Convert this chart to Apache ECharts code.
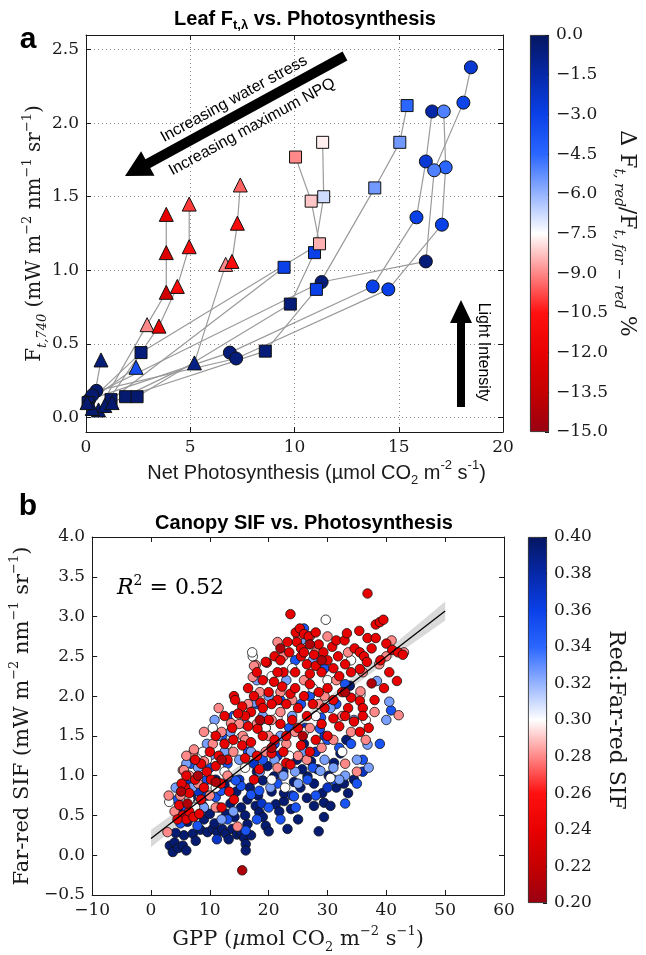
<!DOCTYPE html>
<html>
<head>
<meta charset="utf-8">
<title>Leaf and canopy SIF vs. photosynthesis</title>
<script src="https://cdn.jsdelivr.net/npm/echarts@6/dist/echarts.min.js"></script>
<style>
html, body { margin: 0; padding: 0; background: #fff; }
#chart { width: 646px; height: 955px; }
</style>
</head>
<body>
<div id="chart"></div>
<script>
// ---------- panel a : leaf chains, [net photosynthesis, F740, dF red/far-red %] ----------
const circleChains = [
    [[0.15, 0.12, -0.3], [6.9, 0.44, -0.5], [13.75, 0.89, -3], [15.85, 1.36, -3], [16.3, 1.74, -2.5], [16.6, 2.08, -1.5]],
    [[0.5, 0.18, -0.3], [7.2, 0.40, -0.5], [14.5, 0.87, -3], [17.07, 1.31, -3], [17.25, 1.70, -4.5], [17.16, 2.08, -5]],
    [[0.3, 0.15, -0.3], [11.3, 0.92, -0.5], [16.3, 1.06, -0.5], [16.7, 1.68, -5], [18.1, 2.14, -3.2], [18.46, 2.38, -2.5]]
];
const squareChains = [
    [[1.9, 0.14, -0.3], [8.6, 0.45, -0.5], [11.05, 0.87, -3], [13.85, 1.56, -5.5], [15.05, 1.87, -5.5], [15.4, 2.12, -4.5]],
    [[2.45, 0.14, -0.3], [9.8, 0.77, -0.5], [10.96, 1.12, -3], [11.4, 1.50, -6.8], [11.35, 1.87, -7.7]],
    [[0.1, 0.1, -0.3], [2.64, 0.44, -0.5], [11.2, 1.18, -8.5], [10.8, 1.47, -8.2], [10.05, 1.77, -9]],
    [[1.2, 0.12, -0.3], [9.5, 1.02, -3]]
];
const triangleChains = [
    [[0.6, 0.05, -0.3], [2.93, 0.63, -9], [3.85, 0.85, -13], [3.85, 1.12, -12.5], [3.85, 1.38, -12]],
    [[0.9, 0.08, -0.3], [3.5, 0.62, -12], [4.38, 0.89, -11], [4.95, 1.16, -11], [4.95, 1.45, -10]],
    [[1.25, 0.1, -0.3], [5.2, 0.37, -0.8], [6.7, 1.04, -9], [7.0, 1.06, -11], [7.26, 1.32, -11], [7.4, 1.58, -9.5]],
    [[0.3, 0.06, -0.3], [0.72, 0.39, -0.5]],
    [[0.05, 0.1, -0.3], [2.4, 0.34, -3.5]]
];
const leafYTicks = [0, 0.5, 1, 1.5, 2, 2.5];

// ---------- panel b : canopy points [GPP, far-red SIF], grouped by red:far-red ratio ----------
const canopyNavy = [[3.2,0.12],[3.7,0.04],[4.0,0.16],[4.6,0.09],[5.4,0.12],[6.0,0.06],[5.6,0.25],[4.2,0.28],[7.1,0.27],[7.6,0.18],[8.4,0.32],[9.6,0.29],[10.5,0.33],[11.3,0.29],[12.1,0.33],[12.7,0.27],[13.8,0.33],[13.2,0.2],[14.6,0.26],[15.3,0.27],[15.8,0.22],[16.1,0.14],[16.1,0.06],[17.0,0.25],[16.4,0.39],[19.5,0.37],[23.2,0.33],[21.2,0.64],[22.6,0.68],[27.7,0.62],[29.4,0.48],[29.4,0.66],[29.1,0.78],[25.4,0.85],[15.3,0.6],[16.4,0.7],[17.8,0.62],[18.4,0.54],[19.0,0.48],[22.6,0.78],[24.3,0.92],[27.7,0.9],[26.6,0.99],[25.7,1.08],[28.3,1.08],[31.1,1.16],[20.9,0.99],[19.0,0.94],[9.0,0.45],[10.0,0.52],[11.5,0.6],[12.8,0.52],[14.2,0.48],[7.5,0.5],[6.2,0.42],[8.8,0.62],[10.8,0.4],[13.5,0.65],[14.5,0.8],[16.8,0.85],[18.2,0.75],[20.5,0.8],[21.8,0.55],[23.8,0.58],[25.0,0.45],[26.5,0.72],[30.5,0.62],[31.5,0.85],[32.8,0.9],[33.5,0.78],[34.5,0.95],[30.2,1.0],[27.2,1.18],[24.8,1.2],[22.5,1.05],[19.8,1.12],[32.2,1.28],[33.2,1.45],[26.0,1.4],[33.8,2.13],[18.0,1.05],[12.5,0.88],[11.0,0.95],[6.8,0.72],[5.0,0.55],[16.0,0.5],[20.0,0.3],[28.5,0.3]];
const canopyDarkBlue = [[15.0,0.95],[13.2,0.98],[17.5,1.15],[21.5,1.25],[24.0,0.75],[28.0,1.3],[30.0,0.85],[9.5,0.75],[8.0,0.8],[6.5,0.95],[18.8,0.65],[11.2,0.2],[26.2,1.6],[36.0,1.05],[29.5,1.5]];
const canopyBlue = [[12.1,1.5],[28.9,1.73],[38.9,1.4],[28.7,1.59],[11.0,0.73],[11.9,0.81],[17.0,0.76],[18.4,0.81],[15.3,0.87],[21.5,0.9],[24.6,0.6],[24.3,0.74],[26.6,0.95],[31.0,0.95],[16.1,0.31],[7.9,0.37],[14.4,0.94],[5.0,0.4],[6.0,0.6],[9.5,0.95],[13.0,1.15],[16.5,1.3],[19.0,1.2],[21.0,1.4],[23.5,1.6],[25.5,1.9],[27.0,2.0],[30.0,1.45],[32.0,1.35],[34.0,1.4],[36.0,1.2],[35.0,0.9],[20.0,0.6],[22.0,0.45],[18.0,0.45],[13.0,0.45],[29.5,2.35],[26.0,2.85],[24.5,2.45],[18.0,1.9],[40.8,1.82],[33.0,0.65],[28.0,0.75],[10.0,1.1],[14.0,1.75],[19.5,1.6],[22.0,1.95],[8.5,0.55],[4.5,0.7],[27.5,1.1],[31.5,1.9],[33.0,2.15],[6.8,1.15]];
const canopyLightBlue = [[11.4,1.5],[17.5,1.92],[40.5,1.93],[40.0,1.7],[36.8,1.39],[38.4,2.19],[10.2,1.26],[20.3,0.85],[28.8,1.06],[8.0,1.1],[9.5,1.4],[12.5,1.3],[13.5,1.55],[15.0,1.2],[17.0,1.3],[18.5,1.05],[21.0,1.2],[22.5,1.0],[24.5,1.05],[26.0,1.3],[29.5,1.2],[31.0,1.1],[33.0,1.0],[35.0,1.2],[37.0,1.1],[25.5,2.7],[27.5,2.45],[23.0,2.2],[20.0,2.0],[22.0,1.5],[14.0,0.55],[12.0,0.45],[9.0,0.6],[7.0,0.85],[6.0,1.15],[19.0,1.75],[30.5,1.85],[32.0,0.95],[10.8,1.7],[16.0,1.65],[24.0,1.75],[4.2,0.85],[25.0,0.9],[34.5,1.7],[18.0,2.2]];
const canopyWhite = [[29.7,2.96],[17.3,2.5],[17.2,2.55],[3.1,0.67],[15.3,1.48],[8.8,1.3],[30.5,0.97],[21.5,1.73],[28.0,1.75],[35.6,2.02],[24.0,2.35],[19.5,1.6],[12.5,1.05],[10.5,1.6],[14.5,1.75],[23.5,1.25],[26.0,1.55],[32.5,1.3],[34.0,2.45],[11.0,0.85],[16.0,1.1],[20.5,0.95],[6.5,0.7],[27.5,2.1],[20.5,2.25],[13.0,1.4],[9.5,1.2],[30.0,2.2],[36.5,1.7],[22.8,0.85],[7.5,0.6]];
const canopyPink = [[7.1,1.28],[5.4,1.07],[2.8,0.29],[17.8,2.39],[17.3,2.24],[21.5,2.68],[17.5,2.38],[13.6,1.66],[15.6,1.5],[7.3,1.33],[40.9,2.7],[42.1,1.76],[38.8,2.4],[35.6,2.06],[36.5,1.45],[40.0,2.5],[43.0,2.55],[14.7,0.36],[11.0,0.6],[5.6,1.07],[6.5,1.0],[9.0,1.18],[10.5,1.4],[12.0,1.55],[14.0,1.3],[16.0,1.45],[18.0,1.65],[20.0,1.5],[22.0,1.8],[24.0,1.95],[26.0,2.2],[28.0,2.55],[30.0,2.75],[25.0,2.75],[22.5,2.5],[19.5,1.3],[21.5,1.1],[23.0,1.4],[26.5,1.2],[29.0,1.35],[31.0,1.45],[33.0,1.15],[35.0,1.05],[34.0,1.55],[31.5,2.2],[29.5,2.0],[27.0,1.6],[25.0,1.25],[8.0,0.9],[4.0,0.55],[3.0,0.75],[10.0,0.75],[13.0,1.0],[15.0,1.65],[16.5,1.9],[18.5,2.05],[20.5,1.7],[11.5,1.85],[28.5,1.9],[32.5,1.75],[36.0,2.3],[24.5,1.55],[22.0,2.05],[6.0,1.25],[9.0,1.55],[27.0,2.75],[33.5,2.55],[5.0,0.75],[38.0,1.8]];
const canopyRed = [[23.7,3.03],[36.8,3.29],[24.6,2.8],[25.3,2.85],[26.0,2.78],[26.8,2.75],[24.8,2.68],[23.2,2.68],[25.5,2.6],[27.7,2.52],[28.5,2.65],[29.3,2.55],[30.8,2.62],[31.5,2.7],[32.9,2.7],[33.3,2.79],[35.4,2.82],[36.8,2.73],[38.2,2.73],[38.2,2.9],[38.9,2.93],[39.5,2.96],[40.0,2.66],[41.0,2.58],[42.0,2.55],[42.8,2.52],[34.6,2.6],[35.5,2.55],[36.2,2.5],[36.7,2.43],[35.5,2.34],[19.7,2.42],[19.5,2.43],[21.0,2.5],[22.0,2.45],[26.5,2.4],[28.0,2.38],[30.0,2.45],[31.8,2.5],[33.0,2.4],[29.0,2.3],[27.0,2.28],[24.5,2.3],[22.5,2.3],[25.5,2.5],[23.5,2.55],[32.0,2.25],[34.0,2.3],
    [14.1,2.0],[14.3,1.95],[15.5,1.87],[18.6,1.92],[20.9,2.18],[22.3,2.12],[23.7,2.03],[19.0,2.2],[20.0,2.05],[21.5,1.95],[24.5,2.1],[26.0,2.0],[27.0,2.15],[28.5,2.05],[30.0,2.1],[31.0,1.95],[32.5,2.05],[35.5,1.94],[34.0,1.98],[39.6,2.1],[41.8,2.19],[36.0,1.85],[33.5,1.85],[29.5,1.85],[27.5,1.9],[25.0,1.85],[23.0,1.9],[19.0,1.85],[17.0,1.8],[16.5,2.1],[18.0,2.3],[16.0,1.75],[38.0,1.95],
    [18.1,1.59],[13.8,1.6],[16.5,1.62],[20.0,1.7],[22.0,1.65],[24.0,1.7],[25.0,1.6],[26.5,1.75],[29.0,1.65],[31.0,1.72],[32.0,1.62],[33.0,1.75],[34.5,1.68],[35.5,1.55],[37.0,1.6],[36.0,1.75],[12.5,1.4],[14.0,1.45],[15.5,1.38],[17.0,1.42],[19.0,1.5],[21.0,1.45],[23.0,1.5],[25.5,1.38],[28.0,1.45],[30.0,1.5],[10.0,1.3],[11.5,1.25],[13.0,1.2],[16.0,1.22],[18.0,1.25],[20.5,1.28],[22.5,1.3],[27.0,1.3],[8.5,1.15],[9.5,1.05],[11.0,1.12],[7.5,1.2],
    [4.8,0.63],[5.4,0.5],[6.0,0.45],[6.5,0.55],[7.2,0.48],[8.2,0.52],[5.8,0.85],[6.5,0.78],[10.2,0.95],[11.9,0.9],[13.3,0.8],[14.1,0.7],[17.5,0.95],[18.4,1.08],[23.0,1.16],[23.7,1.14],[7.5,0.95],[6.0,1.0],[8.5,0.7],[12.0,0.6],[9.0,0.85],[4.5,0.45],[5.2,0.9],[11.0,1.5],[12.5,1.75],[14.8,1.78],[21.5,2.3],[26.0,2.55],[28.0,2.8],[31.0,2.35],[37.5,2.6],[39.0,2.45],[40.5,2.3],[17.5,2.0],[20.5,1.9]];
const canopyDarkRed = [[15.5,-0.19],[5.1,0.8],[37.5,2.16],[20.5,1.35],[12.0,1.2],[6.2,0.65],[27.0,2.65],[29.0,2.45],[11.0,0.92],[25.8,1.5],[33.0,2.05],[22.0,2.6],[8.0,1.0],[18.5,1.7]];
const canopyGroups = [canopyNavy, canopyDarkBlue, canopyBlue, canopyLightBlue, canopyWhite, canopyPink, canopyRed, canopyDarkRed];
const groupRatio = [0.395, 0.37, 0.35, 0.325, 0.30, 0.28, 0.24, 0.21];

// regression line and its confidence band
const fitLine = [[0, 0.21], [50, 3.07]];
const bandLow = [[0, 0.10], [10, 0.71], [20, 1.30], [30, 1.88], [40, 2.43], [50, 2.95]];
const bandHigh = [[0, 0.32], [10, 0.85], [20, 1.40], [30, 1.98], [40, 2.57], [50, 3.19]];

// shared colour map, low -> high
const cmap = ['#990012', '#c50000', '#e80000', '#ff1010', '#ff8888', '#ffffff', '#95b3ff', '#2a66ff', '#0a40e8', '#0628a8', '#051660'];

const serif = 'DejaVu Serif';
const sans = 'Liberation Sans';
const ink = '#1a1a1a';

function fmt(d) {
    return v => (v < -1e-9 ? '\u2212' : '') + Math.abs(v).toFixed(d);
}
function rich(size, fam) {
    const small = Math.round(size * 0.64);
    return {
        n: {fontFamily: fam, fontSize: size, color: ink, lineHeight: size + 8},
        i: {fontFamily: fam, fontSize: size, color: ink, lineHeight: size + 8, fontStyle: 'italic'},
        s: {fontFamily: fam, fontSize: small, color: ink, lineHeight: small, verticalAlign: 'bottom'},
        si: {fontFamily: fam, fontSize: small, color: ink, lineHeight: small, verticalAlign: 'bottom', fontStyle: 'italic'},
        p: {fontFamily: fam, fontSize: small, color: ink, lineHeight: small, verticalAlign: 'top'}
    };
}
function frame(gridIndex, position, extra) {
    return Object.assign({
        type: 'value', gridIndex: gridIndex, position: position,
        axisLine: {show: true, onZero: false, lineStyle: {color: ink, width: 1}},
        axisTick: {show: true, inside: true, length: 5, lineStyle: {color: ink}},
        axisLabel: {show: false},
        splitLine: {show: false}
    }, extra);
}
const tickLabel = d => ({show: true, fontFamily: serif, fontSize: 17, color: ink, margin: 7, formatter: fmt(d)});
const dotted = {show: true, lineStyle: {color: '#8a8a8a', type: [1, 3], width: 1}};

function colorbarFill() {
    const top = cmap.slice().reverse();
    return new echarts.graphic.LinearGradient(0, 0, 0, 1,
        top.map((c, i) => ({offset: i / (top.length - 1), color: c})));
}

// ---------- series ----------
let series = [];
[...circleChains, ...squareChains, ...triangleChains].forEach(ch => {
    series.push({
        type: 'line', xAxisIndex: 0, yAxisIndex: 0, silent: true, z: 2,
        data: ch.map(p => [p[0], p[1]]), symbol: 'none',
        lineStyle: {color: '#9a9a9a', width: 1.2}
    });
});
let leafIdx = [];
[['circle', circleChains, 13], ['rect', squareChains, 12], ['triangle', triangleChains, 14]].forEach(([sym, chains, size]) => {
    leafIdx.push(series.length);
    series.push({
        type: 'scatter', xAxisIndex: 0, yAxisIndex: 0, silent: true, z: 3,
        symbol: sym, symbolSize: size, data: [].concat(...chains),
        itemStyle: {borderColor: '#111', borderWidth: 1, opacity: 1}
    });
});
series.push({
    type: 'bar', xAxisIndex: 2, yAxisIndex: 2, silent: true, data: [1], barWidth: '100%',
    itemStyle: {color: colorbarFill(), borderColor: ink, borderWidth: 0.8}
});
// confidence band polygon, built from bandLow / bandHigh through the axes
series.push({
    type: 'custom', xAxisIndex: 3, yAxisIndex: 4, silent: true, z: 1, data: [[0, 0]],
    renderItem: function (params, api) {
        const pts = bandLow.map(p => api.coord(p))
            .concat(bandHigh.slice().reverse().map(p => api.coord(p)));
        return {type: 'polygon', shape: {points: pts}, style: {fill: '#d2d2d2', opacity: 0.85}};
    }
});
const canopyIdx = series.length;
series.push({
    type: 'scatter', xAxisIndex: 3, yAxisIndex: 4, silent: true, z: 3, symbolSize: 9.5,
    data: [].concat(...canopyGroups.map((g, k) => g.map(p => [p[0], p[1], groupRatio[k]]))),
    itemStyle: {borderColor: '#111', borderWidth: 0.8, opacity: 1}
});
series.push({
    type: 'line', xAxisIndex: 3, yAxisIndex: 4, silent: true, z: 4,
    data: fitLine, symbol: 'none', lineStyle: {color: '#000', width: 1.3}
});
series.push({
    type: 'bar', xAxisIndex: 5, yAxisIndex: 6, silent: true, data: [1], barWidth: '100%',
    itemStyle: {color: colorbarFill(), borderColor: ink, borderWidth: 0.8}
});

// ---------- annotation arrows (pixel geometry) ----------
function arrow(tail, tip, shaftHalf, headLen, headHalf) {
    const dx = tip[0] - tail[0], dy = tip[1] - tail[1];
    const L = Math.hypot(dx, dy), ux = dx / L, uy = dy / L, nx = -uy, ny = ux;
    const bx = tip[0] - ux * headLen, by = tip[1] - uy * headLen;
    return [
        [tail[0] + nx * shaftHalf, tail[1] + ny * shaftHalf],
        [bx + nx * shaftHalf, by + ny * shaftHalf],
        [bx + nx * headHalf, by + ny * headHalf],
        tip,
        [bx - nx * headHalf, by - ny * headHalf],
        [bx - nx * shaftHalf, by - ny * shaftHalf],
        [tail[0] - nx * shaftHalf, tail[1] - ny * shaftHalf]
    ];
}
const diagAngle = Math.atan2(176 - 56, 345 - 125);

const option = {
    animation: false,
    backgroundColor: '#fff',
    grid: [
        {left: 86, top: 35, width: 417, height: 397},
        {left: 530, top: 35, width: 19, height: 397},
        {left: 91, top: 537, width: 413, height: 365},
        {left: 528, top: 537, width: 19, height: 366}
    ],
    xAxis: [
        frame(0, 'bottom', {
            min: 0, max: 20, interval: 5, axisLabel: tickLabel(0), splitLine: dotted,
            name: '{n|Net Photosynthesis (\u00b5mol CO}{s|2}{n| m}{p|-2}{n| s}{p|-1}{n|)}',
            nameLocation: 'middle', nameGap: 27, nameMoveOverlap: false,
            nameTextStyle: {rich: rich(20, sans), padding: [0, 0, 0, 44]}
        }),
        frame(0, 'top', {min: 0, max: 20, interval: 5}),
        {type: 'category', gridIndex: 1, data: ['cb'], show: false},
        frame(2, 'bottom', {
            min: -10, max: 60, interval: 10, axisLabel: tickLabel(0),
            name: '{n|GPP (}{i|\u00b5}{n|mol CO}{s|2}{n| m}{p|\u22122}{n| s}{p|\u22121}{n|)}',
            nameLocation: 'middle', nameGap: 30,
            nameTextStyle: {rich: rich(21, serif)}
        }),
        frame(2, 'top', {min: -10, max: 60, interval: 10}),
        {type: 'category', gridIndex: 3, data: ['cb'], show: false}
    ],
    yAxis: [
        frame(0, 'left', {
            min: -0.1, max: 2.6,
            axisTick: {show: true, inside: true, length: 5, lineStyle: {color: ink}, customValues: leafYTicks},
            axisLabel: Object.assign(tickLabel(1), {customValues: leafYTicks}),
            splitLine: dotted,
            name: '{n|F}{si|t,740}{n| (mW m}{p|\u22122}{n| nm}{p|\u22121}{n| sr}{p|\u22121}{n|)}',
            nameLocation: 'middle', nameGap: 37, nameRotate: 90, nameMoveOverlap: false,
            nameTextStyle: {rich: rich(20, serif)}
        }),
        frame(0, 'right', {
            min: -0.1, max: 2.6,
            axisTick: {show: true, inside: true, length: 5, lineStyle: {color: ink}, customValues: leafYTicks}
        }),
        {type: 'value', gridIndex: 1, min: 0, max: 1, show: false},
        frame(1, 'right', {
            min: -15, max: 0, interval: 1.5, axisLabel: tickLabel(1),
            axisTick: {show: true, inside: true, length: 4, lineStyle: {color: ink}},
            axisLine: {show: false},
            name: '{n|\u0394 F}{si|t, red}{n|/F}{si|t, far \u2212 red}{n| %}',
            nameLocation: 'middle', nameGap: 58, nameRotate: -90,
            nameTextStyle: {rich: rich(22, serif)}
        }),
        frame(2, 'left', {
            min: -0.5, max: 4, interval: 0.5, axisLabel: tickLabel(1),
            name: '{n|Far-red SIF (mW m}{p|\u22122}{n| nm}{p|\u22121}{n| sr}{p|\u22121}{n|)}',
            nameLocation: 'middle', nameGap: 54, nameRotate: 90,
            nameTextStyle: {rich: rich(21, serif)}
        }),
        frame(2, 'right', {min: -0.5, max: 4, interval: 0.5}),
        {type: 'value', gridIndex: 3, min: 0, max: 1, show: false},
        frame(3, 'right', {
            min: 0.2, max: 0.4, interval: 0.02, axisLabel: tickLabel(2),
            axisTick: {show: true, inside: true, length: 4, lineStyle: {color: ink}},
            axisLine: {show: false},
            name: 'Red:Far-red SIF',
            nameLocation: 'middle', nameGap: 58, nameRotate: -90,
            nameTextStyle: {fontFamily: serif, fontSize: 22, color: ink}
        })
    ],
    visualMap: [
        {type: 'continuous', show: false, seriesIndex: leafIdx, dimension: 2, min: -15, max: 0, inRange: {color: cmap}},
        {type: 'continuous', show: false, seriesIndex: [canopyIdx], dimension: 2, min: 0.2, max: 0.4, inRange: {color: cmap}}
    ],
    graphic: [
        {type: 'text', x: 28, y: 40, style: {text: 'a', fontFamily: sans, fontWeight: 'bold', fontSize: 30, fill: '#000', align: 'center', verticalAlign: 'middle'}},
        {type: 'text', x: 28, y: 507, style: {text: 'b', fontFamily: sans, fontWeight: 'bold', fontSize: 30, fill: '#000', align: 'center', verticalAlign: 'middle'}},
        {type: 'text', x: 305, y: 19, style: {
            text: '{n|Leaf F}{s|t,\u03bb}{n| vs. Photosynthesis}', align: 'center', verticalAlign: 'middle',
            rich: {
                n: {fontFamily: sans, fontWeight: 'bold', fontSize: 20, lineHeight: 26, fill: '#000'},
                s: {fontFamily: sans, fontWeight: 'bold', fontSize: 13, lineHeight: 13, verticalAlign: 'bottom', fill: '#000'}
            }
        }},
        {type: 'text', x: 304, y: 523, style: {text: 'Canopy SIF vs. Photosynthesis', fontFamily: sans, fontWeight: 'bold', fontSize: 20, fill: '#000', align: 'center', verticalAlign: 'middle'}},
        {type: 'text', x: 117, y: 588, style: {
            text: '{i|R}{p|2}{n| = 0.52}', align: 'left', verticalAlign: 'middle', fill: '#000',
            rich: {
                i: {fontFamily: serif, fontStyle: 'italic', fontSize: 22, lineHeight: 28, fill: '#000'},
                n: {fontFamily: serif, fontSize: 22, lineHeight: 28, fill: '#000'},
                p: {fontFamily: serif, fontSize: 14, lineHeight: 14, verticalAlign: 'top', fill: '#000'}
            }
        }},
        {type: 'polygon', z: 10, shape: {points: arrow([345, 56], [125, 176], 5, 26, 14)}, style: {fill: '#000'}},
        {type: 'text', z: 10, x: 234, y: 99, rotation: diagAngle, style: {text: 'Increasing water stress', fontFamily: sans, fontSize: 16, fill: '#000', align: 'center', verticalAlign: 'middle'}},
        {type: 'text', z: 10, x: 252, y: 127, rotation: diagAngle, style: {text: 'Increasing maximum NPQ', fontFamily: sans, fontSize: 16, fill: '#000', align: 'center', verticalAlign: 'middle'}},
        {type: 'polygon', z: 10, shape: {points: arrow([461, 407], [461, 300], 4, 23, 11)}, style: {fill: '#000'}},
        {type: 'text', z: 10, x: 483, y: 352, rotation: -Math.PI / 2, style: {text: 'Light Intensity', fontFamily: sans, fontSize: 16, fill: '#000', align: 'center', verticalAlign: 'middle'}}
    ],
    series: series
};

const chartDom = document.getElementById('chart');
const myChart = echarts.init(chartDom);
myChart.setOption(option);
</script>
</body>
</html>
